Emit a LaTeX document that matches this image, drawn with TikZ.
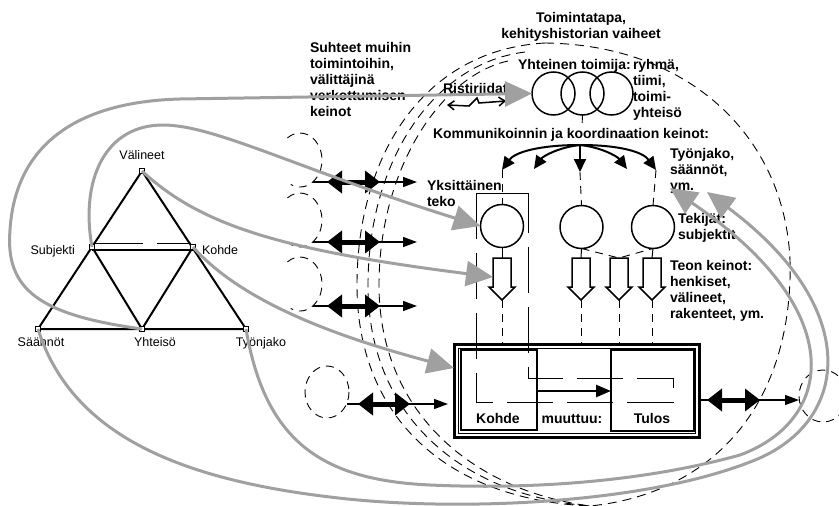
\documentclass[tikz,border=0pt]{standalone}
\usepackage{fontspec}
\setmainfont{Liberation Sans}
\usetikzlibrary{arrows.meta}
\definecolor{linkgray}{RGB}{160,160,160}
\begin{document}
\begin{tikzpicture}[x=1pt,y=-1pt,
  every node/.style={inner sep=0pt, outer sep=0pt},
  btxt/.style={font=\fontsize{14}{16}\selectfont\bfseries, align=left, anchor=north west},
  ctxt/.style={font=\fontsize{14}{16}\selectfont\bfseries, align=center, anchor=north},
  ttxt/.style={font=\fontsize{12.5}{14}\selectfont},
  triline/.style={line width=2pt, line join=round},
  vtx/.style={draw, fill=white, line width=1.3pt, minimum size=5pt, rectangle},
  grayarrow/.style={draw=linkgray, line width=3pt, -{Triangle[length=27pt,width=25pt]}},
  dsh/.style={dash pattern=on 8pt off 6pt, line width=0.9pt},
  bigdash/.style={dash pattern=on 9pt off 6pt, line width=0.9pt},
  longdash/.style={dash pattern=on 46pt off 14pt, line width=1pt},
  ring/.style={draw, circle, line width=1.5pt, minimum size=43pt},
  fanarrow/.style={line width=2pt, -{Triangle[length=13pt,width=12pt]}},
  thinarrow/.style={line width=1.5pt, -{Triangle[length=14pt,width=10pt]}},
  boldarrow/.style={line width=5pt, {Triangle[length=15pt,width=22pt]}-{Triangle[length=15pt,width=22pt]}},
  hollow/.pic={\draw[line width=1.5pt, fill=white, line join=miter]
      (-9,0) -- (9,0) -- (9,29) -- (13,29) -- (0,42) -- (-13,29) -- (-9,29) -- cycle;},
]
\useasboundingbox (0,0) rectangle (839,506);

% ---------- activity triangle ----------
\coordinate (V) at (142,171);
\coordinate (S) at (92,247);
\coordinate (K) at (193,247);
\coordinate (Sa) at (38,329);
\coordinate (Y) at (142,329);
\coordinate (T) at (246,329);
\draw[triline] (V) -- (Sa) -- (T) -- cycle;
\draw[triline] (S) -- (Y) -- (K);
\draw[triline] (92,250) -- (193,250);
\draw[line width=1pt] (95,243) -- (143,243) (157,243) -- (190,243);
\node[vtx] (vV) at (V) {};
\node[vtx] (vS) at (S) {};
\node[vtx] (vK) at (K) {};
\node[vtx] (vSa) at (Sa) {};
\node[vtx] (vY) at (Y) {};
\node[vtx] (vT) at (T) {};
\node[ttxt, anchor=base] (lV) at (142,159.5) {Välineet};
\node[ttxt, anchor=base east] (lS) at (75,254) {Subjekti};
\node[ttxt, anchor=base west] (lK) at (202,254) {Kohde};
\node[ttxt, anchor=base] (lSa) at (41,346.5) {Säännöt};
\node[ttxt, anchor=base] (lY) at (155,346.5) {Yhteisö};
\node[ttxt, anchor=base] (lT) at (261,346.5) {Työnjako};

% ---------- large dashed boundary ----------
\draw[bigdash] (545,43) .. controls (420,50) and (357,160) .. (357,285)
               .. controls (357,420) and (450,500) .. (590,506);
\draw[bigdash] (525,52) .. controls (430,64) and (368,165) .. (368,285)
               .. controls (368,415) and (460,495) .. (590,506);
\draw[bigdash] (508,61) .. controls (440,76) and (379,170) .. (379,285)
               .. controls (379,410) and (470,490) .. (590,506);
\draw[bigdash] (545,43) .. controls (700,45) and (795,150) .. (790,280)
               .. controls (785,420) and (700,495) .. (590,506);

% ---------- neighbouring activities ----------
\draw[dsh] (287.4,137.9) arc[start angle=-125, end angle=115, x radius=22, y radius=27];
\draw[dsh] (287.4,197.9) arc[start angle=-125, end angle=115, x radius=22, y radius=27];
\draw[dsh] (287.4,261.9) arc[start angle=-125, end angle=115, x radius=22, y radius=27];
\draw[dsh] (327,392) ellipse[x radius=22, y radius=26];
\draw[dsh] (823,396) ellipse[x radius=24, y radius=26];

\coordinate (r1s) at (312.6,182); \coordinate (r1e) at (417,182);
\coordinate (r2s) at (312.6,242); \coordinate (r2e) at (417,242);
\coordinate (r3s) at (312.6,306); \coordinate (r3e) at (417,306);
\draw[thinarrow] (r1s) -- (r1e);
\draw[thinarrow] (r2s) -- (r2e);
\draw[thinarrow] (r3s) -- (r3e);
\draw[boldarrow] (327,182) -- (380,182);
\draw[boldarrow] (327,242) -- (380,242);
\draw[boldarrow] (327,306) -- (380,306);

% ---------- collective subject ----------
\node[ring] (c1) at (553.5,93.5) {};
\node[ring] (c2) at (582.5,93.5) {};
\node[ring] (c3) at (611.5,93.5) {};
\coordinate (c2d) at (582,127);
\draw[dsh] (c2.south) -- (c2d);

% ---------- communication and coordination ----------
\coordinate (hub) at (580,145);
\coordinate (lo) at (502,170);
\coordinate (li) at (534,169);
\coordinate (mi) at (580,172);
\coordinate (ri) at (627,169);
\coordinate (ro) at (656,170);
\draw[fanarrow] (hub) .. controls (540,145) and (515,152) .. (lo);
\draw[fanarrow] (hub) .. controls (560,147) and (543,156) .. (li);
\draw[fanarrow] (hub) -- (mi);
\draw[fanarrow] (hub) .. controls (600,147) and (617,156) .. (ri);
\draw[fanarrow] (hub) .. controls (620,145) and (643,152) .. (ro);

% ---------- individual actors ----------
\node[ring] (p1) at (502,226) {};
\node[ring] (p2) at (581.5,227) {};
\node[ring] (p3) at (653,227) {};
\draw[dsh] (lo) -- (p1.north);
\draw[dsh] (mi) -- (p2.north);
\draw[dsh] (ro) -- (p3.north);

\pic at (502,258) {hollow};
\pic at (581,258) {hollow};
\pic at (619,258) {hollow};
\pic at (652,258) {hollow};
\coordinate (ha1) at (493,277);
\draw[line width=1pt] (p1.south) -- (502,258);
\draw[line width=1pt] (p2.south) -- (581,258);
\draw[line width=1pt] (p3.south) -- (652,258);
\draw[dsh] (p2.south) -- (619,258) -- (p3.south);
\draw[dsh] (502,300) -- (502,345);
\draw[dsh] (581,300) -- (581,345);
\draw[dsh] (619,300) -- (619,345);
\draw[dsh] (652,300) -- (652,345);

% single act frame
\draw[line width=1pt] (476,193) -- (528,193);
\draw[longdash] (476,193) -- (476,402) -- (673,402) -- (673,378) -- (528,378) -- (528,193);

% ---------- object and outcome ----------
\draw[line width=3pt] (454,344) rectangle (699,437);
\draw[line width=1pt] (458,348) rectangle (695,433);
\node[draw, line width=2.5pt, minimum width=76pt, minimum height=80pt] (kohde) at (499,390) {};
\node[draw, line width=2.5pt, minimum width=83pt, minimum height=81pt] (tulos) at (652.5,390.5) {};
\draw[line width=2.5pt, -{Triangle[length=15pt,width=12pt]}] (kohde.east |- 0,391) -- (tulos.west |- 0,391);
\coordinate (kin) at (454,368);

\coordinate (b1s) at (346.6,404); \coordinate (b1e) at (448,404);
\draw[thinarrow] (b1s) -- (b1e);
\draw[boldarrow] (358,404) -- (410,404);
\coordinate (b2s) at (699,400); \coordinate (b2e) at (799,400);
\draw[thinarrow] (b2s) -- (b2e);
\draw[boldarrow] (707,400) -- (760,400);

% ---------- contradictions ----------
\draw[line width=1.5pt, {Straight Barb[length=6pt,width=9pt]}-{Straight Barb[length=6pt,width=9pt]}]
  (447,105) -- (469,106) -- (477,98) -- (479,103) -- (506,101);

% ---------- texts ----------
\node[btxt] (tSuh) at (310,42) {Suhteet muihin\\toimintoihin,\\välittäjinä\\verkottumisen\\keinot};
\node[ctxt] (tToi) at (581,12) {Toimintatapa,\\kehityshistorian vaiheet};
\node[btxt] (tYht) at (518,59) {Yhteinen toimija:};
\node[btxt] (tRyh) at (633,59) {ryhmä,\\tiimi,\\toimi-\\yhteisö};
\node[btxt] (tRis) at (443,83) {Ristiriidat};
\node[btxt] (tKom) at (433,128) {Kommunikoinnin ja koordinaation keinot:};
\node[btxt] (tTyo) at (670,148) {Työnjako,\\säännöt,\\ym.};
\node[btxt] (tYks) at (427,180) {Yksittäinen\\teko};
\node[btxt] (tTek) at (678,213) {Tekijät:\\subjektit};
\node[btxt] (tTeo) at (670,260) {Teon keinot:\\henkiset,\\välineet,\\rakenteet, ym.};
\node[btxt, anchor=base] (tKoh) at (498,423) {Kohde};
\node[btxt, anchor=base] (tMuu) at (572,423) {muuttuu:};
\node[btxt, anchor=base] (tTul) at (652,423) {Tulos};
\coordinate (tyoin) at (670,188);
\coordinate (saain) at (707,192);

% ---------- mediating links ----------
\draw[grayarrow] (vY.center) .. controls (40,315) and (5,290) .. (10,230)
   .. controls (15,150) and (70,102) .. (180,99) -- (c1.west);
\draw[grayarrow] (vS.center) .. controls (80,180) and (105,125) .. (163,125)
   .. controls (215,125) and (300,170) .. (p1.west);
\draw[grayarrow] (vV.center) .. controls (200,225) and (280,250) .. (ha1);
\draw[grayarrow] (vK.center) .. controls (240,300) and (330,335) .. (kin);
\draw[grayarrow] (vT.center) .. controls (265,440) and (320,480) .. (430,485)
   .. controls (540,490) and (650,480) .. (740,455)
   .. controls (835,420) and (850,310) .. (tyoin);
\draw[grayarrow] (vSa.center) .. controls (70,430) and (170,478) .. (330,497)
   .. controls (450,512) and (640,505) .. (750,462)
   .. controls (850,425) and (865,310) .. (saain);
\end{tikzpicture}
\end{document}
